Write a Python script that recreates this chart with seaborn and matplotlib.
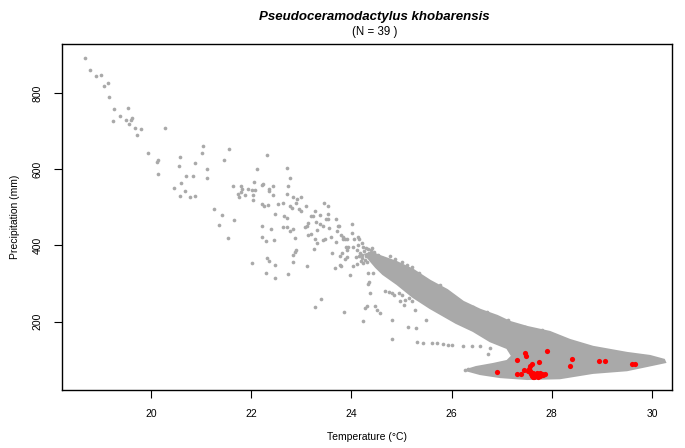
import matplotlib
matplotlib.use("Agg")
import matplotlib.pyplot as plt
import seaborn as sns
import pandas as pd

# Scattered background localities: mean temperature (°C) and precipitation (mm)
bg_temp = [
    18.68, 18.77, 18.89, 19.00, 19.06, 19.14, 19.16, 19.26, 19.24, 19.38,
    19.54, 19.50, 19.59, 19.62, 19.56, 19.68, 19.80, 19.72, 20.27, 19.93,
    20.11, 20.13, 20.13, 20.57, 20.56, 21.03, 21.02, 20.88, 21.11, 21.12,
    20.70, 20.84, 20.59, 20.46, 20.68, 20.57, 20.78, 20.88, 21.26, 21.42,
    21.36, 21.54, 21.45, 21.55,
    22.31, 22.12, 22.72, 22.78, 22.73, 22.72, 21.63, 21.80, 21.82, 21.80,
    21.73, 21.75, 21.88, 21.93, 22.01, 22.07, 22.04, 22.03, 22.06, 22.21,
    22.24, 22.36, 22.35, 22.43, 22.44, 22.22, 22.25, 22.34, 22.54, 22.64,
    22.48, 22.66, 22.71, 22.77, 22.81, 22.83, 22.92, 23.00, 22.89, 22.95,
    22.99, 23.09, 22.71, 22.63, 22.77, 22.83, 22.22, 22.40, 22.21, 22.30,
    22.45, 22.87, 23.11, 23.08, 23.14, 23.24, 23.28, 23.37, 23.19, 23.29,
    23.38, 23.43, 23.45, 23.53, 23.54, 23.49, 23.54, 23.56, 23.70, 23.73,
    23.75, 23.71, 23.31, 23.19, 23.14, 23.27, 23.31, 23.44, 23.47, 23.60,
    23.69, 23.80, 23.83, 23.87, 23.91, 23.84, 23.89, 23.93, 24.01, 24.01,
    24.06, 24.14, 24.16, 24.14, 24.04, 23.91, 23.82, 23.77, 23.62, 23.67,
    23.80, 23.77, 23.88, 23.92, 24.09, 24.12, 24.03, 23.97, 23.25, 22.90,
    22.88, 22.83, 22.83, 22.73, 22.47, 22.31, 22.36, 22.30, 22.48, 22.02,
    23.12, 23.40, 23.27, 23.85, 21.66,
    24.21, 24.24, 24.29, 24.21, 24.31, 24.24, 24.33, 24.43, 24.36, 24.34,
    24.37, 24.24, 24.31, 24.27, 24.47, 24.50, 24.56, 24.67, 24.74, 24.80,
    24.85, 24.94, 25.00, 24.96, 25.07, 25.14, 25.20, 25.05, 25.27, 24.80,
    25.12, 25.29, 25.48, 24.80,
    24.77, 24.87, 25.00, 25.10, 25.20, 25.34, 25.50, 25.70, 25.77,
    25.31, 25.42, 25.60, 25.70, 25.83, 25.93, 26.00, 26.23, 26.40, 26.57,
    26.73, 26.77, 26.27, 26.33,
    26.10, 26.43, 26.70, 27.13, 27.47, 27.80,
    24.12, 24.18, 24.25, 24.30, 24.22, 24.35, 24.15, 24.40, 24.28, 24.45,
    24.33, 24.19, 24.52, 24.60, 24.42,
]
bg_precip = [
    890, 859, 843, 848, 817, 827, 788, 757, 725, 738,
    759, 730, 730, 733, 717, 707, 704, 689, 707, 641,
    619, 623, 586, 631, 607, 660, 641, 615, 600, 578,
    581, 581, 563, 550, 542, 529, 526, 529, 495, 479,
    453, 419, 623, 652,
    636, 599, 602, 578, 555, 534, 555, 555, 548, 541,
    534, 527, 532, 548, 545, 544, 532, 519, 565, 558,
    560, 547, 543, 555, 532, 508, 503, 505, 509, 511,
    482, 477, 473, 504, 498, 526, 521, 528, 511, 495,
    489, 503, 449, 447, 438, 444, 450, 442, 421, 412,
    414, 419, 451, 447, 460, 477, 489, 481, 477, 462,
    456, 451, 510, 502, 482, 469, 470, 445, 468, 451,
    451, 437, 440, 429, 426, 417, 406, 414, 418, 421,
    410, 426, 421, 417, 416, 416, 395, 396, 456, 432,
    418, 421, 416, 402, 395, 388, 379, 373, 379, 340,
    347, 348, 364, 370, 369, 350, 345, 322, 391, 387,
    382, 374, 356, 324, 348, 366, 360, 327, 314, 353,
    345, 259, 238, 225, 466,
    406, 397, 392, 375, 357, 353, 327, 327, 305, 298,
    274, 203, 241, 237, 241, 231, 222, 281, 278, 274,
    270, 274, 269, 253, 257, 261, 253, 244, 231, 205,
    185, 183, 205, 155,
    371, 364, 357, 349, 344, 327, 305, 292, 296,
    148, 145, 145, 143, 142, 139, 139, 137, 136, 135,
    115, 130, 73, 75,
    257, 239, 226, 205, 187, 178,
    388, 381, 386, 371, 366, 380, 372, 389, 362, 384,
    390, 360, 376, 367, 392,
]

# Outline of the dense background cloud (upper edge, tip, then lower edge)
cloud_temp = [
    24.28, 24.40, 24.57, 24.89, 25.23, 25.57, 25.91, 26.23, 26.57, 26.91,
    27.17, 27.51, 27.96, 28.36, 28.82, 29.50, 29.96, 30.24, 30.26,
    29.90, 29.50, 28.82, 28.16, 27.51, 26.97, 26.57, 26.29, 26.49, 26.83,
    27.11, 27.21, 27.11, 26.77, 26.43, 26.09, 25.57, 25.23, 24.91, 24.63,
    24.49, 24.38,
]
cloud_precip = [
    376, 381, 372, 357, 336, 307, 283, 252, 231, 215,
    199, 186, 173, 152, 134, 118, 110, 100, 94,
    84, 73, 66, 52, 50, 55, 63, 73, 81, 89,
    97, 110, 131, 149, 176, 197, 236, 265, 299, 325,
    343, 360,
]

# Occurrence records of the species (N = 39)
occ_temp = [
    26.91, 27.30, 27.46, 27.49, 27.30, 27.38, 27.45, 27.54, 27.57, 27.61,
    27.75, 27.90, 27.58, 27.62, 27.67, 27.70, 27.74, 27.80, 27.86, 27.63,
    27.77, 27.70, 27.52, 27.65, 27.60, 27.73, 27.56, 27.82, 27.68, 27.63,
    27.72, 27.57, 27.76, 28.40, 28.36, 28.95, 29.06, 29.61, 29.67,
]
occ_precip = [
    67, 100, 119, 110, 63, 63, 73, 76, 84, 89,
    95, 123, 63, 60, 60, 58, 60, 63, 63, 65,
    58, 65, 71, 56, 58, 63, 67, 60, 63, 55,
    55, 71, 66, 102, 84, 96, 98, 90, 88,
]

species = "Pseudoceramodactylus khobarensis"
x_ticks = [20, 22, 24, 26, 28, 30]
y_ticks = [200, 400, 600, 800]

sns.set_style("ticks")
plt.rcParams["font.family"] = ["Liberation Sans", "DejaVu Sans"]
plt.rcParams["text.color"] = "black"
plt.rcParams["xtick.color"] = "black"
plt.rcParams["ytick.color"] = "black"
plt.rcParams["xtick.labelcolor"] = "black"
plt.rcParams["ytick.labelcolor"] = "black"

fig = plt.figure(figsize=(6.85, 4.48), dpi=100)
ax = fig.add_axes([0.0905, 0.1295, 0.8905, 0.7723])

grey = "#A9A9A9"
ax.fill(cloud_temp, cloud_precip, facecolor=grey, edgecolor=grey,
        linewidth=1.6, zorder=1)

bg = pd.DataFrame({"temp": bg_temp, "precip": bg_precip})
occ = pd.DataFrame({"temp": occ_temp, "precip": occ_precip})
sns.scatterplot(data=bg, x="temp", y="precip", color=grey, s=7,
                linewidth=0, ax=ax, zorder=2)
sns.scatterplot(data=occ, x="temp", y="precip", color="red", s=14,
                linewidth=0, ax=ax, zorder=3)

ax.set_xlim(18.22, 30.40)
ax.set_ylim(21, 928)
ax.set_xticks(x_ticks)
ax.set_yticks(y_ticks)
ax.set_xticklabels([str(v) for v in x_ticks], fontsize=7.5)
ax.set_yticklabels([str(v) for v in y_ticks], fontsize=7.5,
                   rotation=90, va="center")
ax.tick_params(axis="both", direction="out", length=6, width=0.8,
               color="black", labelcolor="black", pad=8)
for sp in ax.spines.values():
    sp.set_visible(True)
    sp.set_color("black")
    sp.set_linewidth(1.0)

ax.set_xlabel("")
ax.set_ylabel("")
fig.text(0.536, 0.024, "Temperature (°C)", ha="center", va="center",
         fontsize=7.5)
fig.text(0.022, 0.516, "Precipitation (mm)", ha="center", va="center",
         rotation=90, fontsize=7.5)
fig.text(0.547, 0.962, species, ha="center", va="center", fontsize=9.5,
         fontweight="bold", fontstyle="italic")
fig.text(0.547, 0.929, "(N = 39 )", ha="center", va="center", fontsize=8.3)

fig.savefig("out.png", dpi=100)
